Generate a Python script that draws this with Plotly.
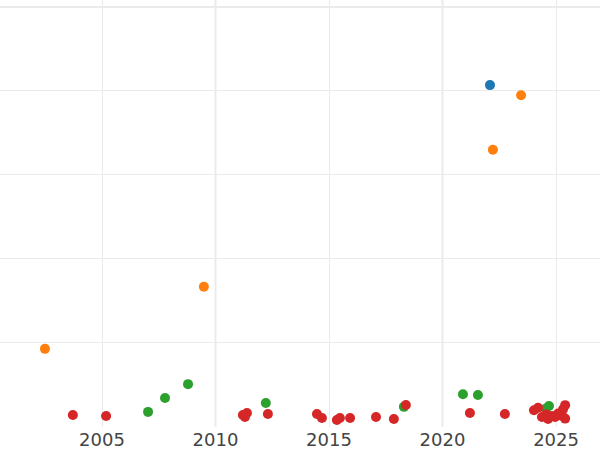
import plotly.graph_objects as go

# Data (y in gridline units)
blue_x = ["2022-02-03"]
blue_y = [4.07]

orange_x = ["2023-06-18", "2022-03-22", "2009-06-28", "2002-06-28"]
orange_y = [3.95, 3.30, 1.67, 0.93]

green_x = ["2007-01-12", "2007-10-12", "2008-10-16", "2012-03-21", "2018-04-20",
           "2020-11-25", "2021-07-24", "2024-07-23", "2024-09-09"]
green_y = [0.18, 0.345, 0.51, 0.286, 0.24, 0.39, 0.38, 0.22, 0.25]

red_x = ["2003-09-20", "2005-03-08", "2011-03-18", "2011-05-22", "2011-04-20",
         "2012-04-23", "2014-06-21", "2014-09-09", "2015-05-08", "2015-06-25",
         "2015-12-06", "2017-01-26", "2017-11-10", "2018-05-22", "2021-03-17",
         "2022-10-01", "2024-01-12", "2024-03-17", "2024-05-19", "2024-07-23",
         "2024-08-25", "2024-10-27", "2024-12-17", "2025-02-03", "2025-04-06",
         "2025-05-27", "2025-04-23", "2025-05-27"]
red_y = [0.143, 0.131, 0.143, 0.167, 0.119,
         0.155, 0.155, 0.107, 0.083, 0.107,
         0.107, 0.119, 0.095, 0.262, 0.167,
         0.155, 0.20, 0.23, 0.12, 0.15,
         0.095, 0.13, 0.12, 0.16, 0.13,
         0.26, 0.21, 0.10]

x_ticks = ["2005-01-01", "2010-01-01", "2015-01-01", "2020-01-01", "2025-01-01"]
x_ticktext = ["2005", "2010", "2015", "2020", "2025"]
y_ticks = [1, 2, 3, 4, 5]
thick_x = ["2010-01-01", "2020-01-01"]
thick_y = [5]

GRID = "#ebebeb"

fig = go.Figure()
for xs, ys, col in [(blue_x, blue_y, "#1f77b4"), (orange_x, orange_y, "#ff7f0e"),
                    (green_x, green_y, "#2ca02c"), (red_x, red_y, "#d62728")]:
    fig.add_trace(go.Scatter(x=xs, y=ys, mode="markers",
                             marker=dict(color=col, size=10, line=dict(width=0)),
                             showlegend=False))

for tx in thick_x:
    fig.add_shape(type="line", xref="x", yref="paper", x0=tx, x1=tx, y0=0, y1=1,
                  line=dict(color=GRID, width=2), layer="below")
for ty in thick_y:
    fig.add_shape(type="line", xref="paper", yref="y", x0=0, x1=1, y0=ty, y1=ty,
                  line=dict(color=GRID, width=2), layer="below")

fig.update_layout(
    width=600, height=450,
    margin=dict(l=0, r=0, t=0, b=23, autoexpand=False),
    plot_bgcolor="white", paper_bgcolor="white",
    font=dict(family="DejaVu Sans", size=18, color="#444"),
    xaxis=dict(type="date", range=["2000-07-05", "2026-12-09"],
               tickvals=x_ticks, ticktext=x_ticktext,
               showgrid=True, gridcolor=GRID, gridwidth=1,
               zeroline=False, showline=False, ticks="",
               tickfont=dict(size=18, color="#444")),
    yaxis=dict(range=[0, 5.083], tickvals=y_ticks, showticklabels=False,
               showgrid=True, gridcolor=GRID, gridwidth=1,
               zeroline=False, showline=False, ticks=""),
)

fig.write_html("out.html",
               config={"displayModeBar": False},
               post_script="document.body.style.margin='0';document.body.style.overflow='hidden';")
